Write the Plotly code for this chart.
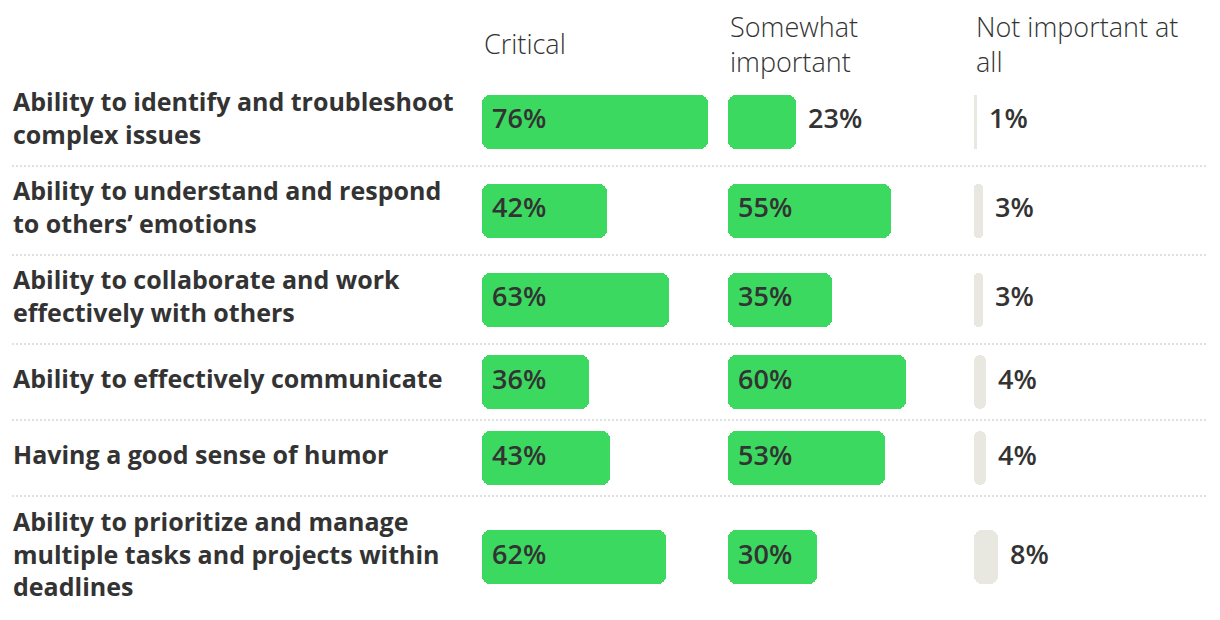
import plotly.graph_objects as go

categories = [
    "Ability to identify and troubleshoot<br>complex issues",
    "Ability to understand and respond<br>to others’ emotions",
    "Ability to collaborate and work<br>effectively with others",
    "Ability to effectively communicate",
    "Having a good sense of humor",
    "Ability to prioritize and manage<br>multiple tasks and projects within<br>deadlines",
]
columns = ["Critical", "Somewhat<br>important", "Not important at<br>all"]
critical = [76, 42, 63, 36, 43, 62]
somewhat = [23, 55, 35, 60, 53, 30]
not_important = [1, 3, 3, 4, 4, 8]

series = [critical, somewhat, not_important]
colors = ["#3bd95f", "#3bd95f", "#e8e8e1"]
TEXT = "#333333"
FONT = "Open Sans"

OFF = 8  # page body margin
W, H = 1220 - OFF, 620 - OFF
col_starts = [482, 728, 974]
col_width = 246
px_per_pct = 2.97


def px(xp):
    return (xp - OFF) / W


# row heights depend on number of label lines
line_counts = [c.count("<br>") + 1 for c in categories]
row_heights = [max(76, n * 33 + 23) for n in line_counts]
bounds = [0]
for h in row_heights:
    bounds.append(bounds[-1] + h)
centers = [(bounds[i] + bounds[i + 1]) / 2 for i in range(len(categories))]
total = bounds[-1]
TOP = 77 - OFF
BOTTOM = H - TOP - total
plot_h = total

fig = go.Figure()
annotations = []
axis_names = ["x", "x2", "x3"]
for j, (vals, col, color) in enumerate(zip(series, columns, colors)):
    xa = axis_names[j]
    fig.add_trace(go.Bar(
        x=vals, base=[0] * len(vals), y=centers, orientation="h", width=54,
        marker=dict(color=color, cornerradius=8, line=dict(width=0)),
        xaxis=xa, yaxis="y", hoverinfo="skip", showlegend=False,
    ))
    for v, c in zip(vals, centers):
        inside = v >= 25
        annotations.append(dict(
            x=0 if inside else v, y=c, xref=xa, yref="y",
            text=f"{v}%", showarrow=False,
            xanchor="left", yanchor="middle",
            xshift=8 if inside else 10, yshift=4,
            font=dict(family=FONT, size=27, color=TEXT, weight=600),
        ))
    annotations.append(dict(
        x=0, y=1 + 33 / plot_h, xref=xa, yref="paper", text=col, showarrow=False,
        xanchor="left", yanchor="middle", align="left",
        font=dict(family=FONT, size=27, color=TEXT, weight=300),
    ))

for cat, c in zip(categories, centers):
    annotations.append(dict(
        x=px(11), y=c, xref="paper", yref="y", text=cat,
        showarrow=False, xanchor="left", yanchor="middle", align="left",
        yshift=4,
        font=dict(family=FONT, size=25, color=TEXT, weight=700),
    ))

shapes = []
for b in bounds[1:-1]:
    shapes.append(dict(
        type="line", xref="paper", yref="y", x0=px(12), x1=px(1208), y0=b, y1=b,
        line=dict(color="#d6d6d6", width=1.5, dash="2px,2px"),
    ))

layout = dict(
    width=W, height=H,
    margin=dict(l=0, r=0, t=TOP, b=BOTTOM),
    paper_bgcolor="white", plot_bgcolor="white",
    yaxis=dict(range=[total, 0], visible=False, fixedrange=True),
    annotations=annotations, shapes=shapes, bargap=0, barmode="overlay",
)
for j, xa in enumerate(["xaxis", "xaxis2", "xaxis3"]):
    layout[xa] = dict(
        domain=[px(col_starts[j]), min(1.0, px(col_starts[j] + col_width))],
        range=[0, col_width / px_per_pct], visible=False, fixedrange=True,
        anchor="y",
    )
fig.update_layout(**layout)
fig.write_html("out.html")
